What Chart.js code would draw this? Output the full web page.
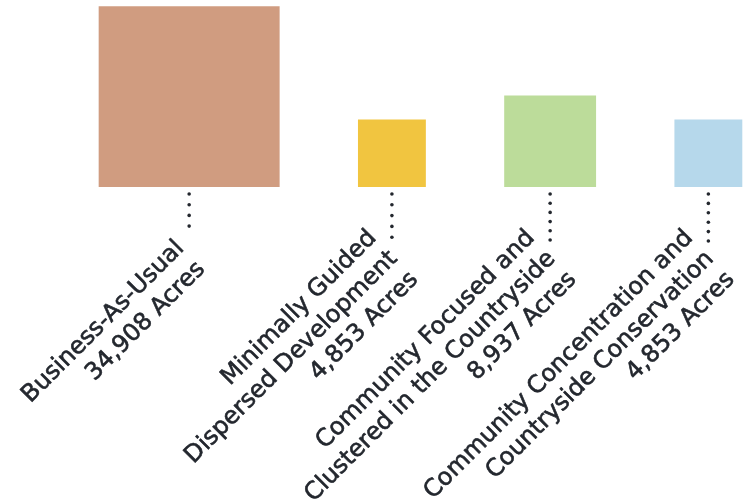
<!DOCTYPE html>
<html>
<head>
<meta charset="utf-8">
<script src="https://cdn.jsdelivr.net/npm/chart.js@4/dist/chart.umd.min.js"></script>
<style>
  html, body { margin: 0; padding: 0; background: #ffffff; }
  #wrap { width: 752px; height: 499px; position: relative; }
</style>
</head>
<body>
<div id="wrap"><canvas id="c"></canvas></div>
<script>
// ---- data ----
const categories = [
  ["Business-As-Usual"],
  ["Minimally Guided", "Dispersed Development"],
  ["Community Focused and", "Clustered in the Countryside"],
  ["Community Concentration and", "Countryside Conservation"]
];
const acres = [34908, 4853, 8937, 4853];
const unitLabel = "Acres";

// ---- styles ----
const colors = ["#D09C80", "#F1C540", "#BCDC9A", "#B6D8EB"];
const textColor = "#23272e";
const SIDE_SCALE = 0.965;   // px of square side per sqrt(acre): square area ∝ acres
const LEFT_MARGIN = 99;     // px before first square
const GAP = 79;             // px between squares
const BASE_Y = 187;         // baseline (bottom of squares)
const W = 752, H = 499;

// derived layout (square side from area, centres from cumulative widths)
const sides = acres.map(a => Math.sqrt(a) * SIDE_SCALE);
const centers = [];
let cursor = LEFT_MARGIN;
sides.forEach(s => { centers.push(cursor + s / 2); cursor += s + GAP; });

const labelLines = categories.map((c, i) => [...c, acres[i].toLocaleString('en-US') + ' ' + unitLabel]);

const datasets = acres.map((a, i) => ({
  label: categories[i].join(' '),
  data: [{ x: centers[i], y: sides[i] }],
  backgroundColor: colors[i],
  borderWidth: 0,
  barThickness: sides[i],
  grouped: false
}));

const labelPlugin = {
  id: 'squareLabels',
  afterDatasetsDraw(chart, args, opts) {
    const ctx = chart.ctx;
    const c = Math.SQRT1_2;
    chart.data.datasets.forEach((ds, i) => {
      const bar = chart.getDatasetMeta(i).data[0];
      if (!bar) return;
      const bx = bar.x, by = bar.base;
      // dotted leader
      ctx.save();
      ctx.fillStyle = opts.dotColor;
      for (let j = 0; j < opts.dotCounts[i]; j++) {
        ctx.beginPath();
        ctx.arc(bx, by + opts.dotStart + j * opts.dotGaps[i], opts.dotRadius, 0, Math.PI * 2);
        ctx.fill();
      }
      ctx.restore();
      // rotated, right-aligned label block
      const lines = labelLines[i];
      const lh = opts.lineHeight;
      const u = opts.u;
      const v = opts.v + (3 - lines.length) * lh / 2;
      const ax = bx + u * c + v * c;
      const ay = by - u * c + v * c;
      ctx.save();
      ctx.translate(ax, ay);
      ctx.rotate(-Math.PI / 4);
      ctx.font = opts.font;
      ctx.fillStyle = textColor;
      ctx.strokeStyle = textColor;
      ctx.lineWidth = opts.strokeWidth;
      ctx.lineJoin = 'round';
      ctx.textAlign = 'right';
      ctx.textBaseline = 'middle';
      lines.forEach((t, k) => {
        ctx.fillText(t, 0, k * lh);
        ctx.strokeText(t, 0, k * lh);
      });
      ctx.restore();
    });
  }
};

new Chart(document.getElementById('c'), {
  type: 'bar',
  data: { datasets },
  options: {
    responsive: true,
    maintainAspectRatio: false,
    animation: false,
    layout: { padding: { left: 0, right: 0, top: 0, bottom: H - BASE_Y } },
    scales: {
      x: { type: 'linear', min: 0, max: W, offset: false, display: false },
      y: { type: 'linear', min: 0, max: BASE_Y, display: false }
    },
    plugins: {
      legend: { display: false },
      tooltip: { enabled: false },
      squareLabels: {
        dotColor: textColor,
        dotRadius: 1.8,
        dotStart: 7,
        dotCounts: [4, 5, 6, 6],
        dotGaps: [10.7, 10.8, 9.2, 9.4],
        font: '24px "DejaVu Sans"',
        strokeWidth: 0.6,
        lineHeight: 29.5,
        u: -47,
        v: 20
      }
    }
  },
  plugins: [labelPlugin]
});
</script>
</body>
</html>
